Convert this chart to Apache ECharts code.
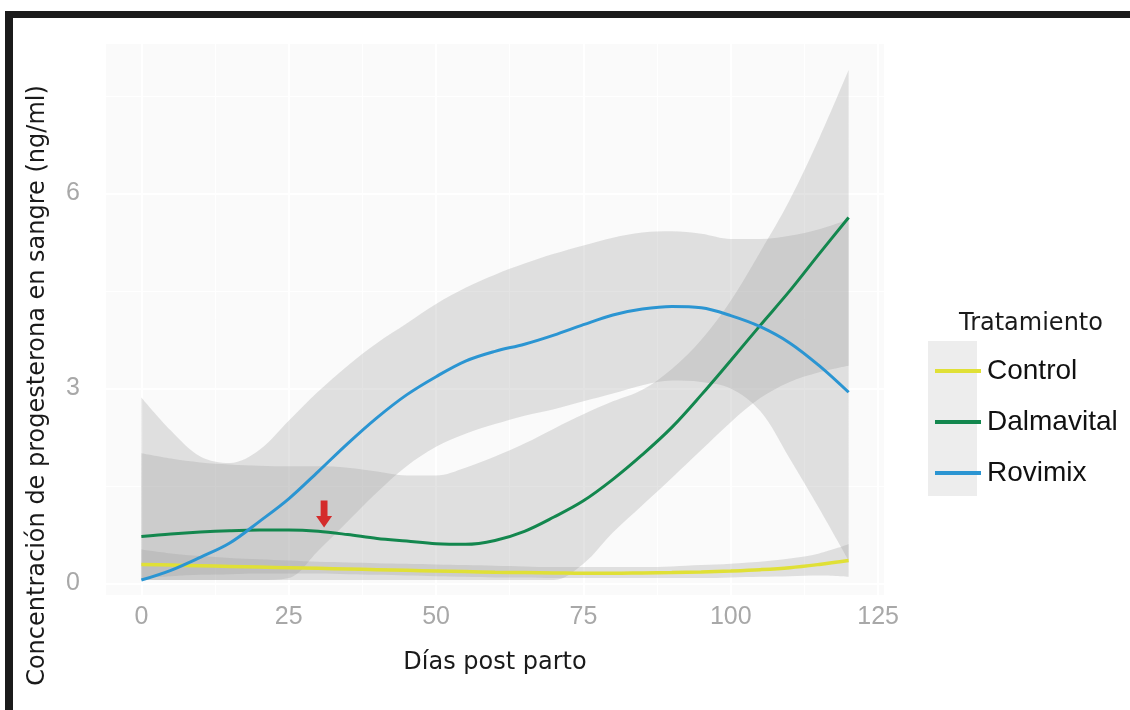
<!DOCTYPE html>
<html>
<head>
<meta charset="utf-8">
<script src="https://cdn.jsdelivr.net/npm/echarts@6/dist/echarts.min.js"></script>
<style>
  html, body { margin: 0; background: #fff; }
  #main { width: 1130px; height: 710px; }
</style>
</head>
<body>
<div id="main"></div>
<script>
// days post partum (smoothed curves read every 5 days)
const days = [0,5,10,15,20,25,30,35,40,45,50,55,60,65,70,75,80,85,90,95,100,105,110,115,120];

const controlMean = [0.29,0.28,0.27,0.26,0.25,0.24,0.23,0.22,0.21,0.2,0.19,0.18,0.17,0.165,0.16,0.155,0.155,0.16,0.165,0.175,0.19,0.21,0.24,0.29,0.35];
const controlLow  = [0.08,0.11,0.13,0.14,0.15,0.15,0.15,0.14,0.13,0.12,0.11,0.1,0.09,0.09,0.08,0.08,0.08,0.08,0.08,0.08,0.09,0.1,0.11,0.12,0.1];
const controlHigh = [0.52,0.46,0.42,0.39,0.37,0.35,0.33,0.32,0.31,0.3,0.29,0.28,0.27,0.26,0.25,0.25,0.25,0.25,0.26,0.28,0.3,0.33,0.38,0.46,0.6];

const dalMean = [0.72,0.76,0.79,0.81,0.82,0.82,0.8,0.75,0.69,0.65,0.61,0.6,0.66,0.8,1.02,1.27,1.6,1.98,2.4,2.9,3.43,3.97,4.5,5.07,5.63];
const dalLow  = [0.05,0.05,0.05,0.05,0.05,0.05,0.05,0.05,0.05,0.05,0.05,0.05,0.05,0.05,0.05,0.3,0.78,1.2,1.62,2.05,2.48,2.85,3.1,3.25,3.35];
const dalHigh = [2.0,1.92,1.86,1.83,1.81,1.8,1.8,1.78,1.72,1.66,1.66,1.78,1.95,2.15,2.38,2.6,2.8,2.98,3.3,3.75,4.35,5.1,5.9,6.85,7.9];

const rovMean = [0.05,0.2,0.4,0.62,0.95,1.3,1.72,2.15,2.55,2.9,3.18,3.42,3.57,3.68,3.82,3.98,4.13,4.22,4.26,4.24,4.12,3.95,3.7,3.35,2.94];
const rovLow  = [0.05,0.05,0.05,0.05,0.05,0.08,0.5,0.95,1.4,1.8,2.1,2.3,2.45,2.58,2.68,2.8,2.92,3.05,3.12,3.1,3.0,2.65,1.92,1.15,0.35];
const rovHigh = [2.86,2.35,1.95,1.85,2.05,2.5,2.95,3.35,3.7,4.0,4.3,4.55,4.75,4.92,5.07,5.2,5.32,5.4,5.42,5.38,5.3,5.3,5.35,5.45,5.6];

const xTicks = [0,25,50,75,100,125];
const yTicks = [0,3,6];
const xGrid = [0,12.5,25,37.5,50,62.5,75,87.5,100,112.5,125];
const yGrid = [0,1.5,3,4.5,6,7.5];

const seriesNames = ['Control','Dalmavital','Rovimix'];

// red arrow over the Dalmavital curve
const arrowDay = 31;
const arrowLevel = 0.86;

const colors = { Control: '#e0e036', Dalmavital: '#13874e', Rovimix: '#2b95d2' };

const chart = echarts.init(document.getElementById('main'));

const pairs = (ys) => days.map((d, i) => [d, ys[i]]);
// value first, day second: the stack then runs on the value (y) dimension
const flipped = (ys) => days.map((d, i) => [ys[i], d]);

function bandSeries(id, low, high) {
  return [
    {
      name: id + '-low', type: 'line', stack: id, data: flipped(low),
      encode: { x: 1, y: 0 },
      smooth: 0.35, symbol: 'none', silent: true, z: 2,
      lineStyle: { opacity: 0 }
    },
    {
      name: id + '-band', type: 'line', stack: id,
      data: flipped(high.map((h, i) => h - low[i])),
      encode: { x: 1, y: 0 },
      smooth: 0.35, symbol: 'none', silent: true, z: 2,
      lineStyle: { opacity: 0 },
      areaStyle: { color: '#9a9a9a', opacity: 0.28 }
    }
  ];
}

function lineSeries(name, ys, width) {
  return {
    name: name, type: 'line', data: pairs(ys), smooth: 0.35, symbol: 'none', z: 4,
    lineStyle: { color: colors[name], width: width },
    itemStyle: { color: colors[name] }
  };
}

const gridLines = []
  .concat(xGrid.map(v => ({ xAxis: v, lineStyle: { width: v % 25 === 0 ? 2 : 1 } })))
  .concat(yGrid.map(v => ({ yAxis: v, lineStyle: { width: v % 3 === 0 ? 2 : 1 } })));

const dal = lineSeries('Dalmavital', dalMean, 3);
dal.markPoint = {
  silent: true,
  data: [{
    coord: [arrowDay, arrowLevel],
    symbol: 'path://M4,0 H10 V15 H14 L7,26 L0,15 H4 Z',
    symbolSize: [16, 27],
    symbolOffset: [0, '-50%'],
    itemStyle: { color: '#d42b2b' },
    label: { show: false }
  }]
};

chart.setOption({
  animation: false,
  backgroundColor: '#fff',
  grid: { left: 106, right: 246, top: 44, bottom: 115, show: true, backgroundColor: '#fafafa', borderWidth: 0 },
  title: {
    text: 'Tratamiento', left: 954, top: 307,
    textStyle: { fontSize: 24, fontWeight: 'normal', color: '#1a1a1a', fontFamily: 'DejaVu Sans' }
  },
  legend: {
    data: seriesNames, orient: 'vertical', left: 930, top: 352,
    icon: 'rect', itemWidth: 46, itemHeight: 4, itemGap: 23,
    textStyle: { fontSize: 28, color: '#111', fontFamily: 'Liberation Sans', padding: [0, 0, 0, 1] }
  },
  graphic: [
    { type: 'rect', left: 928, top: 341, shape: { width: 49, height: 155 }, style: { fill: '#ededed' }, z: 0 },
    { type: 'rect', left: 5, top: 11, shape: { width: 1125, height: 7 }, style: { fill: '#1b1b1b' }, z: 10 },
    { type: 'rect', left: 5, top: 11, shape: { width: 8, height: 699 }, style: { fill: '#1b1b1b' }, z: 10 }
  ],
  xAxis: {
    type: 'value', min: -6, max: 126,
    name: 'Días post parto', nameLocation: 'middle', nameGap: 56,
    nameTextStyle: { fontSize: 24, color: '#1a1a1a', fontFamily: 'DejaVu Sans' },
    axisLine: { show: false },
    splitLine: { show: false },
    axisTick: { show: true, customValues: xTicks, length: 8, lineStyle: { color: '#8c8c8c', width: 1.5 } },
    axisLabel: { customValues: xTicks, margin: 10, fontSize: 25, color: '#a8a8a8', fontFamily: 'Liberation Sans' }
  },
  yAxis: {
    type: 'value', min: -0.18, max: 8.3,
    name: 'Concentración de progesterona en sangre (ng/ml)', nameLocation: 'middle', nameGap: 56,
    nameTextStyle: { fontSize: 24, color: '#1a1a1a', fontFamily: 'DejaVu Sans', padding: [0, 132, 0, 0] },
    axisLine: { show: false },
    splitLine: { show: false },
    axisTick: { show: true, customValues: yTicks, length: 7, lineStyle: { color: '#8c8c8c', width: 1.5 } },
    axisLabel: { customValues: yTicks, margin: 26, fontSize: 25, color: '#a8a8a8', fontFamily: 'Liberation Sans' }
  },
  series: [
    {
      name: 'grid', type: 'line', data: [], silent: true, z: 1,
      markLine: {
        silent: true, symbol: 'none', z: 1, animation: false,
        label: { show: false },
        lineStyle: { color: '#ffffff', type: 'solid', width: 1 },
        data: gridLines
      }
    },
    ...bandSeries('ctl', controlLow, controlHigh),
    ...bandSeries('dal', dalLow, dalHigh),
    ...bandSeries('rov', rovLow, rovHigh),
    lineSeries('Control', controlMean, 3.5),
    dal,
    lineSeries('Rovimix', rovMean, 3)
  ]
});
</script>
</body>
</html>
